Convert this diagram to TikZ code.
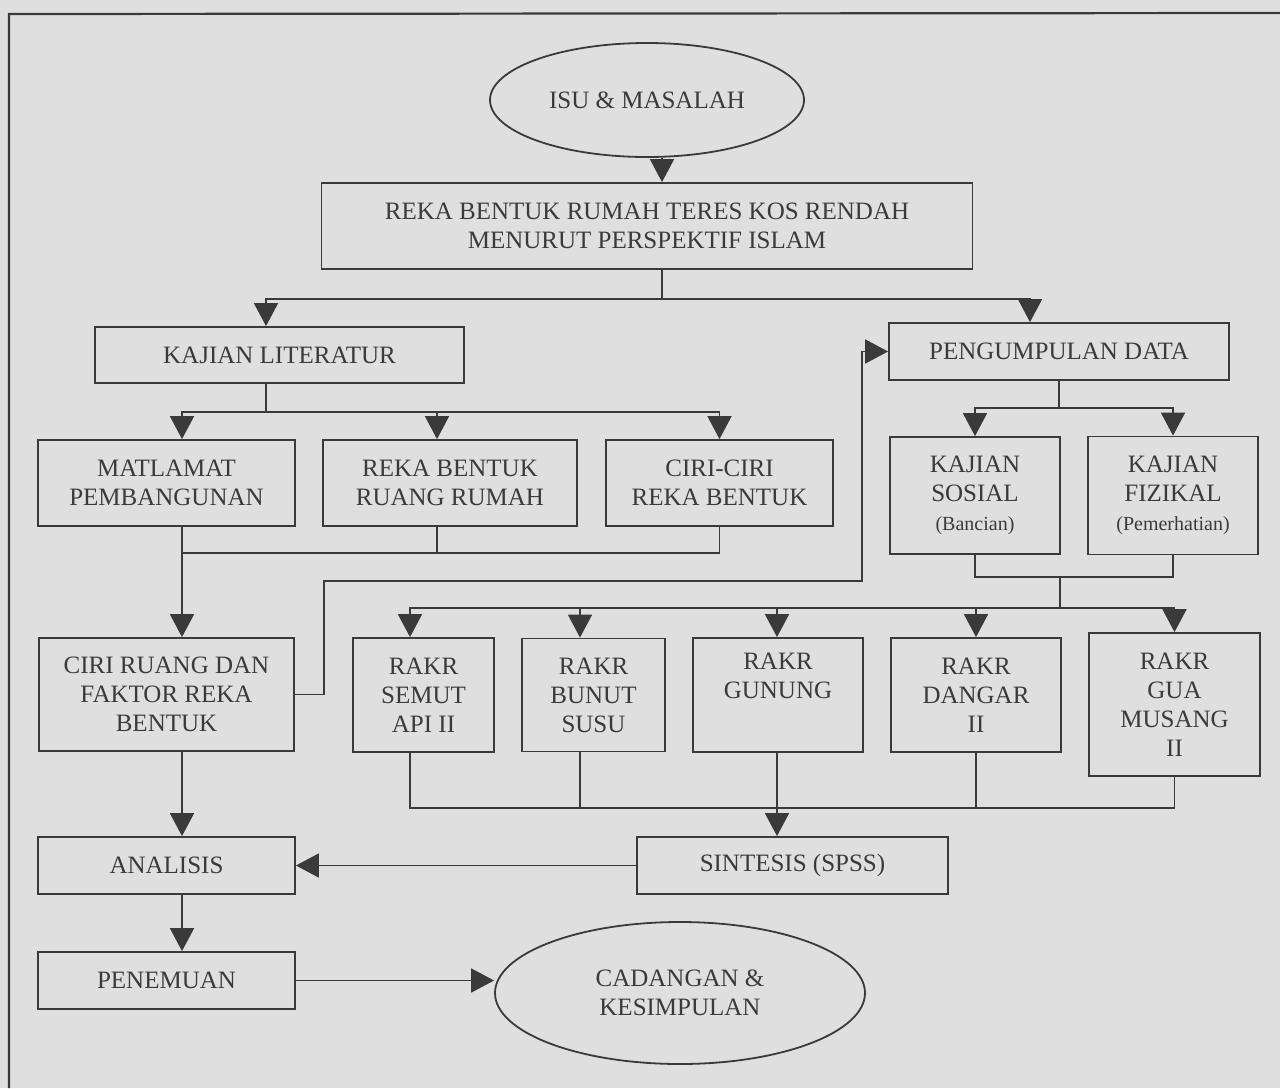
\documentclass[tikz,border=0pt]{standalone}
\usepackage{fontspec}
\setmainfont{Liberation Serif}
\usetikzlibrary{arrows.meta,shapes.geometric,positioning}
\definecolor{paper}{HTML}{DFDFDF}
\definecolor{ink}{HTML}{3A3A3A}
\tikzset{
block/.style={rectangle, inner sep=0pt, text centered, align=center, draw=ink, line width=0.9pt, text=ink},
terminal/.style={ellipse, inner sep=0pt, text centered, align=center, draw=ink, line width=0.9pt, text=ink},
arrow/.style={draw=ink, line width=0.9pt, -{Triangle[length=11.5pt,width=12pt]}},
noarrow/.style={draw=ink, line width=0.9pt}}
\newcommand{\smalltext}[1]{{\fontsize{10}{12}\selectfont #1}}

\begin{document}
\begin{tikzpicture}[x=0.5pt,y=-0.5pt,font=\fontsize{12.5}{14.5}\selectfont]
\fill [paper] (0,0) rectangle (1280,1088);
\useasboundingbox (0,0) rectangle (1280,1088);
\draw [noarrow, line width=1.1pt] (9,1088) -- (9,14) -- (1280,13);

\node (isu) [terminal, minimum width=157pt, minimum height=57pt] at (647,100) {ISU \& MASALAH};
\node (reka) [block, below of=isu, node distance=63pt, minimum width=325.5pt, minimum height=43pt] {REKA BENTUK RUMAH TERES KOS RENDAH\\MENURUT PERSPEKTIF ISLAM};
\node (kajian) [block, minimum width=184.5pt, minimum height=28pt] at (279.5,355) {KAJIAN LITERATUR};
\node (pengumpulan) [block, minimum width=170pt, minimum height=28.5pt] at (1059,351.5) {PENGUMPULAN DATA};
\node (matlamat) [block, minimum width=128.5pt, minimum height=43pt] at (166.5,483) {MATLAMAT\\PEMBANGUNAN};
\node (ruang) [block, right of=matlamat, node distance=141.75pt, minimum width=127pt, minimum height=43pt] {REKA BENTUK\\RUANG RUMAH};
\node (ciriciri) [block, right of=ruang, node distance=134.75pt, minimum width=113.5pt, minimum height=43pt] {CIRI-CIRI\\REKA BENTUK};
\node (sosial) [block, minimum width=85pt, minimum height=58.5pt] at (975,495.5) {KAJIAN\\SOSIAL\\\smalltext{(Bancian)}};
\node (fizikal) [block, right of=sosial, node distance=99pt, minimum width=85pt, minimum height=59pt] {KAJIAN\\FIZIKAL\\\smalltext{(Pemerhatian)}};
\node (ciriruang) [block, below of=matlamat, node distance=105.75pt, minimum width=127.5pt, minimum height=56.5pt] {CIRI RUANG DAN\\FAKTOR REKA\\BENTUK};
\node (semut) [block, minimum width=70.5pt, minimum height=57pt] at (423.5,695) {RAKR\\SEMUT\\API II};
\node (bunut) [block, right of=semut, node distance=85pt, minimum width=71.5pt, minimum height=56.5pt] {RAKR\\BUNUT\\SUSU};
\node (gunung) [block, right of=bunut, node distance=92.25pt, minimum width=85pt, minimum height=57pt] {RAKR\\GUNUNG\\\strut};
\node (dangar) [block, right of=gunung, node distance=99pt, minimum width=85pt, minimum height=57pt] {RAKR\\DANGAR\\II};
\node (gua) [block, minimum width=85.5pt, minimum height=71.5pt] at (1174.5,704.5) {RAKR\\GUA\\MUSANG\\II};
\node (analisis) [block, below of=ciriruang, node distance=85.5pt, minimum width=128.5pt, minimum height=28.5pt] {ANALISIS};
\node (penemuan) [block, below of=analisis, node distance=57.5pt, minimum width=128.5pt, minimum height=28.5pt] {PENEMUAN};
\node (sintesis) [block, minimum width=155.5pt, minimum height=28.5pt] at (792.5,865.5) {SINTESIS (SPSS)};
\node (cadangan) [terminal, minimum width=185pt, minimum height=71pt] at (680,993) {CADANGAN \&\\KESIMPULAN};

\coordinate (split1) at (662,299);
\coordinate (split2) at (266,412);
\coordinate (join1) at (182,553);
\coordinate (bend1) at (324,581);
\coordinate (bend2) at (862,581);
\coordinate (split3) at (1059,408);
\coordinate (join2) at (1060,577);
\coordinate (split4) at (1060,608);
\coordinate (join3) at (777,808);

% top part
\draw [arrow] (isu.south -| split1) -- (reka.north -| split1);
\draw [noarrow] (reka.south -| split1) -- (split1);
\draw [arrow] (split1) -| (kajian.north -| split2);
\draw [arrow] (split1) -| ([xshift=-14.5pt]pengumpulan.north);

% literature branch
\draw [noarrow] (kajian.south -| split2) -- (split2);
\draw [arrow] (split2) -| (matlamat.north -| join1);
\draw [arrow] (split2) -| ([xshift=-6.5pt]ruang.north);
\draw [arrow] (split2) -| (ciriciri.north);
\draw [noarrow] ([xshift=-6.5pt]ruang.south) |- (join1);
\draw [noarrow] (ciriciri.south) |- (join1);
\draw [arrow] (matlamat.south -| join1) -- (ciriruang.north -| join1);
\draw [arrow] (ciriruang.east) -| (bend1) -- (bend2) |- (pengumpulan.west);

% data branch
\draw [noarrow] (pengumpulan.south -| split3) -- (split3);
\draw [arrow] (split3) -| (sosial.north);
\draw [arrow] (split3) -| (fizikal.north);
\draw [noarrow] (sosial.south) |- (join2) -| (fizikal.south);
\draw [noarrow] (join2) -- (split4);
\draw [arrow] (split4) -| ([xshift=-6.75pt]semut.north);
\draw [arrow] (split4) -| ([xshift=-6.75pt]bunut.north);
\draw [arrow] (split4) -| (gunung.north -| join3);
\draw [arrow] (split4) -| (dangar.north);
\draw [arrow] (split4) -| (gua.north);

% bottom part
\draw [noarrow] ([xshift=-6.75pt]semut.south) |- (join3);
\draw [noarrow] ([xshift=-6.75pt]bunut.south) |- (join3);
\draw [noarrow] (gunung.south -| join3) -- (join3);
\draw [noarrow] (dangar.south) |- (join3);
\draw [noarrow] (gua.south) |- (join3);
\draw [arrow] (join3) -- (sintesis.north -| join3);
\draw [arrow] (sintesis.west) -- (analisis.east);
\draw [arrow] (ciriruang.south -| join1) -- (analisis.north -| join1);
\draw [arrow] (analisis.south -| join1) -- (penemuan.north -| join1);
\draw [arrow] (penemuan.east) -- (penemuan.east -| cadangan.west);
\end{tikzpicture}
\end{document}
